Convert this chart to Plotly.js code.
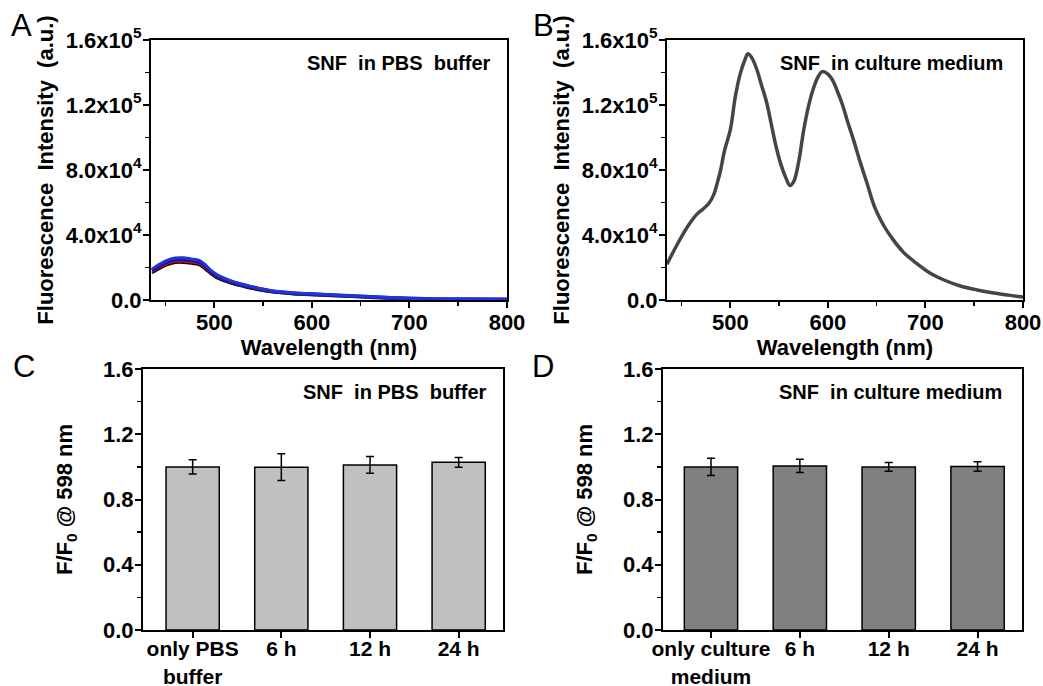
<!DOCTYPE html>
<html>
<head>
<meta charset="utf-8">
<script src="https://cdn.plot.ly/plotly-3.0.1.min.js"></script>
<style>html,body{margin:0;padding:0;background:#fff;}#chart{width:1043px;height:686px;}</style>
</head>
<body>
<div id="chart"></div>
<script>
// ---- Panel A: SNF in PBS buffer (several repeated spectra) ----
const wlA = [436, 445, 452, 460, 468, 476, 484, 490, 496, 502, 510, 520, 530, 545, 560, 580, 600, 620, 640, 660, 680, 700, 730, 760, 800];
const pbsBlack = [16500, 19500, 21500, 22800, 22800, 22300, 21500, 19000, 16000, 13500, 11500, 9500, 8000, 6000, 4600, 3600, 3000, 2500, 2000, 1500, 1000, 600, 300, 200, 100];
const pbsRed   = [17200, 20200, 22300, 23500, 23500, 23000, 22200, 19800, 16800, 14200, 12100, 10000, 8500, 6400, 4900, 3900, 3200, 2700, 2200, 1600, 1100, 700, 350, 250, 120];
const pbsNavy  = [18200, 21600, 23600, 24900, 25000, 24400, 23600, 21100, 17700, 15000, 12800, 10600, 9000, 6900, 5300, 4200, 3500, 2900, 2400, 1800, 1300, 850, 500, 400, 300];
const pbsBlue  = [19000, 22500, 24500, 25800, 26000, 25300, 24500, 22000, 18500, 15800, 13500, 11200, 9500, 7300, 5600, 4500, 3800, 3200, 2600, 2100, 1500, 1000, 600, 500, 400];

// ---- Panel B: SNF in culture medium ----
const wlB = [435, 440, 449, 457, 466, 472, 478, 483, 487, 490, 494, 500, 505, 510, 515, 518, 522, 527, 532, 537, 542, 547, 552, 557, 561, 565, 570, 575, 580, 585, 590, 594, 600, 605, 610, 615, 620, 626, 633, 640, 648, 657, 667, 678, 691, 705, 719, 735, 753, 770, 785, 800];
const mediumI = [22000, 28000, 38000, 46000, 53000, 56000, 59500, 65000, 73000, 80000, 92000, 105000, 125000, 139000, 148000, 151500, 149000, 142000, 132000, 122000, 108000, 94000, 83000, 75000, 70500, 73000, 85000, 104000, 119000, 130000, 137500, 140500, 139000, 135000, 128000, 120000, 110000, 99000, 85000, 72000, 57000, 46000, 37000, 29000, 22500, 16500, 12300, 8800, 6200, 4300, 3000, 1800];

// ---- Panels C & D: F/F0 at 598 nm ----
const catsC = ["only PBS<br>buffer", "6 h", "12 h", "24 h"];
const valsC = [1.0, 0.998, 1.012, 1.028];
const errC  = [0.043, 0.082, 0.051, 0.03];
const catsD = ["only culture<br>medium", "6 h", "12 h", "24 h"];
const valsD = [1.0, 1.006, 1.0, 1.002];
const errD  = [0.053, 0.041, 0.027, 0.029];

const yTickVals = [0, 40000, 80000, 120000, 160000];
const yTickText = ["0.0", "4.0x10<sup>4</sup>", "8.0x10<sup>4</sup>", "1.2x10<sup>5</sup>", "1.6x10<sup>5</sup>"];
const barTickVals = [0, 0.4, 0.8, 1.2, 1.6];
const barTickText = ["0.0", "0.4", "0.8", "1.2", "1.6"];

const FAM = "Liberation Sans, Arial, sans-serif";
const boldFont = (s) => ({family: FAM, size: s, color: "#000", weight: "bold"});

const W = 1043, H = 686;
const fx = (a, b) => [a / W, b / W];
const fy = (top, bot) => [1 - bot / H, 1 - top / H];

function baseAxis(extra) {
  return Object.assign({
    showline: true, linewidth: 2, linecolor: "#000", mirror: true,
    ticks: "outside", ticklen: 6, tickwidth: 2, tickcolor: "#000",
    showgrid: false, zeroline: false,
    tickfont: boldFont(22),
  }, extra);
}

const traces = [
  {x: wlA, y: pbsBlack, xaxis: "x", yaxis: "y", mode: "lines", line: {color: "#000000", width: 2, shape: "spline", smoothing: 0.8}, hoverinfo: "skip"},
  {x: wlA, y: pbsRed, xaxis: "x", yaxis: "y", mode: "lines", line: {color: "#e0001a", width: 2, shape: "spline", smoothing: 0.8}, hoverinfo: "skip"},
  {x: wlA, y: pbsNavy, xaxis: "x", yaxis: "y", mode: "lines", line: {color: "#1a1a8c", width: 4, shape: "spline", smoothing: 0.8}, hoverinfo: "skip"},
  {x: wlA, y: pbsBlue, xaxis: "x", yaxis: "y", mode: "lines", line: {color: "#2233dd", width: 3, shape: "spline", smoothing: 0.8}, hoverinfo: "skip"},
  {x: wlB, y: mediumI, xaxis: "x2", yaxis: "y2", mode: "lines", line: {color: "#454548", width: 3.5, shape: "spline", smoothing: 1}, hoverinfo: "skip"},
  {x: catsC, y: valsC, xaxis: "x3", yaxis: "y3", type: "bar", width: 0.6,
   marker: {color: "#c0c0c0", line: {color: "#000", width: 1.5}},
   error_y: {type: "data", array: errC, visible: true, color: "#000", thickness: 1.5, width: 4}},
  {x: catsD, y: valsD, xaxis: "x4", yaxis: "y4", type: "bar", width: 0.6,
   marker: {color: "#808080", line: {color: "#000", width: 1.5}},
   error_y: {type: "data", array: errD, visible: true, color: "#000", thickness: 1.5, width: 4}},
];

const specX = (dom, anchor) => baseAxis({
  domain: dom, anchor: anchor, range: [435, 800], tick0: 0, dtick: 100, ticklabelstandoff: -4,
  minor: {dtick: 50, tick0: 0, ticks: "outside", ticklen: 4, tickwidth: 1.5, tickcolor: "#000"},
  title: {text: "Wavelength (nm)", font: boldFont(22), standoff: 0},
});
const specY = (dom, anchor) => baseAxis({
  domain: dom, anchor: anchor, range: [0, 160000], tickmode: "array", tickvals: yTickVals, ticktext: yTickText,
  ticklabelstandoff: -3,
  minor: {tickmode: "linear", dtick: 20000, tick0: 0, ticks: "outside", ticklen: 4, tickwidth: 1.5, tickcolor: "#000"},
  title: {text: "Fluorescence  Intensity  (a.u.)", font: boldFont(22), standoff: 6},
});
const barX = (dom, anchor, rng) => baseAxis({
  domain: dom, anchor: anchor, type: "category", range: rng, ticklabelstandoff: -7,
  tickfont: boldFont(21),
});
const barY = (dom, anchor) => baseAxis({
  domain: dom, anchor: anchor, range: [0, 1.6], tickmode: "array", tickvals: barTickVals, ticktext: barTickText,
  ticklabelstandoff: -3,
  minor: {tickmode: "linear", dtick: 0.2, tick0: 0, ticks: "outside", ticklen: 4, tickwidth: 1.5, tickcolor: "#000"},
  title: {text: "F/F<sub>0</sub> @ 598 nm", font: boldFont(22), standoff: 24},
});

const topDom = fy(40, 300), botDom = fy(369, 630);

const layout = {
  width: W, height: H,
  margin: {l: 0, r: 0, t: 0, b: 0},
  paper_bgcolor: "#fff", plot_bgcolor: "#fff",
  showlegend: false,
  font: {family: FAM, color: "#000"},
  xaxis: specX(fx(151, 507), "y"),
  yaxis: specY(topDom, "x"),
  xaxis2: specX(fx(667, 1023), "y2"),
  yaxis2: specY(topDom, "x2"),
  xaxis3: barX(fx(143, 503), "y3", [-0.56, 3.5]),
  yaxis3: barY(botDom, "x3"),
  xaxis4: barX(fx(663, 1022), "y4", [-0.54, 3.5]),
  yaxis4: barY(botDom, "x4"),
  annotations: [
    {text: "SNF  in PBS  buffer", xref: "x domain", yref: "y domain", x: 0.96, y: 0.912, xanchor: "right", yanchor: "middle", showarrow: false, font: boldFont(20)},
    {text: "SNF  in culture medium", xref: "x2 domain", yref: "y2 domain", x: 0.95, y: 0.912, xanchor: "right", yanchor: "middle", showarrow: false, font: boldFont(20)},
    {text: "SNF  in PBS  buffer", xref: "x3 domain", yref: "y3 domain", x: 0.96, y: 0.912, xanchor: "right", yanchor: "middle", showarrow: false, font: boldFont(20)},
    {text: "SNF  in culture medium", xref: "x4 domain", yref: "y4 domain", x: 0.95, y: 0.912, xanchor: "right", yanchor: "middle", showarrow: false, font: boldFont(20)},
    {text: "A", xref: "paper", yref: "paper", x: 21 / W, y: 1 - 26 / H, xanchor: "center", yanchor: "middle", showarrow: false, font: {family: FAM, size: 31, color: "#000"}},
    {text: "B", xref: "paper", yref: "paper", x: 543 / W, y: 1 - 26 / H, xanchor: "center", yanchor: "middle", showarrow: false, font: {family: FAM, size: 31, color: "#000"}},
    {text: "C", xref: "paper", yref: "paper", x: 24 / W, y: 1 - 366 / H, xanchor: "center", yanchor: "middle", showarrow: false, font: {family: FAM, size: 31, color: "#000"}},
    {text: "D", xref: "paper", yref: "paper", x: 543 / W, y: 1 - 366 / H, xanchor: "center", yanchor: "middle", showarrow: false, font: {family: FAM, size: 31, color: "#000"}},
  ],
};

Plotly.newPlot("chart", traces, layout, {staticPlot: true, displayModeBar: false});
</script>
</body>
</html>
